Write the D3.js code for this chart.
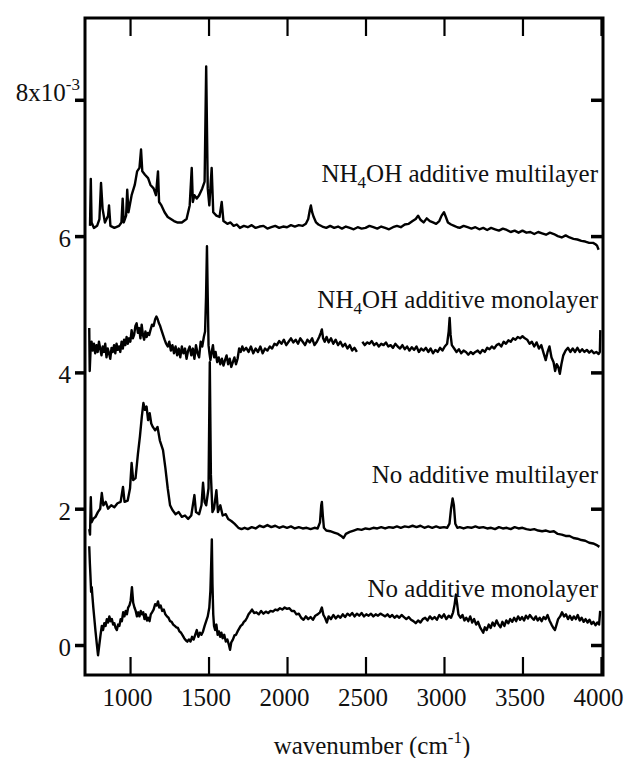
<!DOCTYPE html>
<html>
<head>
<meta charset="utf-8">
<script src="https://cdn.jsdelivr.net/npm/d3@7"></script>
<style>
    body { margin: 0; background: #fff; }
    text { font-family: "Liberation Serif", "Times New Roman", serif; fill: #111; }
</style>
</head>
<body>
<div id="chart"></div>
<script>
'use strict';

// absorbance values in units of 1e-3, x = wavenumber (cm-1)
const xTicks = [1000, 1500, 2000, 2500, 3000, 3500, 4000]
const yTicks = [0, 2, 4, 6, 8]

const seriesLabels = [
    "NH4OH additive multilayer",
    "NH4OH additive monolayer",
    "No additive multilayer",
    "No additive monolayer"
]

const nh4ohMulti = [
    [745, 6.15], [750, 6.84], [755, 6.2], [770, 6.12], [790, 6.15], [805, 6.25], [815, 6.78], [825, 6.4],
    [840, 6.2], [860, 6.3], [866, 6.45], [875, 6.15], [900, 6.12], [930, 6.15], [945, 6.2], [953, 6.55],
    [960, 6.2], [975, 6.3], [982, 6.68], [990, 6.35], [1010, 6.6], [1030, 6.75], [1045, 6.95], [1060, 7.0],
    [1070, 7.27], [1078, 6.95], [1095, 6.9], [1115, 6.85], [1130, 6.75], [1150, 6.7], [1165, 6.6], [1178, 6.95],
    [1185, 6.5], [1200, 6.45], [1220, 6.35], [1240, 6.28], [1260, 6.25], [1280, 6.22], [1300, 6.2], [1330, 6.2],
    [1360, 6.25], [1380, 6.45], [1393, 7.0], [1400, 6.5], [1410, 6.6], [1425, 6.55], [1440, 6.6], [1460, 6.7],
    [1475, 6.8], [1485, 8.49], [1495, 6.7], [1505, 6.45], [1520, 7.0], [1530, 6.35], [1550, 6.3], [1570, 6.28],
    [1584, 6.5], [1595, 6.22], [1620, 6.18], [1640, 6.2], [1660, 6.15], [1680, 6.17], [1700, 6.12], [1725, 6.15],
    [1750, 6.13], [1775, 6.16], [1800, 6.12], [1825, 6.14], [1850, 6.15], [1875, 6.11], [1900, 6.13], [1925, 6.15],
    [1950, 6.12], [1975, 6.14], [2000, 6.13], [2025, 6.16], [2050, 6.14], [2075, 6.16], [2100, 6.15], [2120, 6.18],
    [2135, 6.25], [2145, 6.38], [2152, 6.45], [2160, 6.35], [2170, 6.28], [2185, 6.2], [2200, 6.17], [2225, 6.14],
    [2250, 6.12], [2275, 6.15], [2300, 6.12], [2325, 6.14], [2350, 6.11], [2375, 6.14], [2400, 6.12], [2425, 6.1],
    [2450, 6.13], [2475, 6.11], [2500, 6.12], [2525, 6.15], [2550, 6.13], [2575, 6.11], [2600, 6.14], [2625, 6.12],
    [2650, 6.1], [2675, 6.13], [2700, 6.15], [2725, 6.13], [2750, 6.17], [2775, 6.18], [2800, 6.22], [2820, 6.25],
    [2835, 6.3], [2850, 6.24], [2870, 6.2], [2890, 6.26], [2910, 6.22], [2930, 6.2], [2950, 6.18], [2970, 6.22],
    [2985, 6.3], [3000, 6.35], [3012, 6.28], [3025, 6.2], [3045, 6.17], [3065, 6.15], [3085, 6.13], [3100, 6.12],
    [3125, 6.15], [3150, 6.13], [3175, 6.11], [3200, 6.13], [3225, 6.1], [3250, 6.12], [3275, 6.09], [3300, 6.12],
    [3325, 6.1], [3350, 6.08], [3375, 6.11], [3400, 6.09], [3425, 6.06], [3450, 6.08], [3475, 6.05], [3500, 6.08],
    [3525, 6.05], [3550, 6.06], [3575, 6.03], [3600, 6.06], [3625, 6.04], [3650, 6.02], [3675, 6.05], [3700, 6.03],
    [3725, 6.0], [3750, 5.98], [3775, 6.01], [3800, 5.98], [3825, 5.96], [3850, 5.95], [3875, 5.93], [3900, 5.92],
    [3925, 5.9], [3950, 5.9], [3965, 5.88], [3975, 5.86], [3985, 5.8]
]

const nh4ohMono = [
    [740, 4.65], [743, 4.02], [748, 4.3], [755, 4.45], [762, 4.32], [770, 4.42], [778, 4.28], [786, 4.4],
    [794, 4.3], [802, 4.45], [810, 4.35], [818, 4.25], [826, 4.38], [834, 4.3], [842, 4.42], [850, 4.22],
    [858, 4.35], [866, 4.28], [874, 4.2], [882, 4.36], [890, 4.3], [898, 4.4], [906, 4.28], [914, 4.42],
    [922, 4.33], [930, 4.38], [938, 4.3], [946, 4.45], [954, 4.35], [962, 4.48], [970, 4.4], [978, 4.52],
    [986, 4.42], [994, 4.5], [1002, 4.45], [1010, 4.62], [1018, 4.5], [1026, 4.55], [1034, 4.68], [1042, 4.72],
    [1050, 4.58], [1058, 4.65], [1066, 4.5], [1074, 4.7], [1082, 4.55], [1090, 4.48], [1098, 4.6], [1106, 4.52],
    [1114, 4.58], [1122, 4.55], [1130, 4.62], [1140, 4.7], [1150, 4.68], [1160, 4.78], [1168, 4.82], [1176, 4.78],
    [1184, 4.72], [1192, 4.68], [1200, 4.62], [1210, 4.55], [1220, 4.48], [1230, 4.42], [1240, 4.38], [1250, 4.45],
    [1260, 4.32], [1270, 4.4], [1280, 4.28], [1290, 4.38], [1300, 4.25], [1310, 4.35], [1320, 4.22], [1330, 4.38],
    [1340, 4.28], [1350, 4.35], [1360, 4.2], [1370, 4.32], [1380, 4.38], [1390, 4.25], [1400, 4.35], [1410, 4.2],
    [1420, 4.4], [1430, 4.28], [1440, 4.22], [1450, 4.45], [1460, 4.38], [1470, 4.52], [1478, 4.6], [1484, 5.1],
    [1490, 5.85], [1495, 5.1], [1500, 4.4], [1506, 4.28], [1512, 4.18], [1520, 4.3], [1528, 4.4], [1536, 4.22],
    [1545, 4.3], [1555, 4.15], [1565, 4.22], [1575, 4.12], [1585, 4.2], [1595, 4.1], [1605, 4.18], [1615, 4.25],
    [1625, 4.12], [1635, 4.2], [1645, 4.08], [1655, 4.15], [1665, 4.22], [1675, 4.12], [1685, 4.2], [1695, 4.35],
    [1705, 4.3], [1715, 4.38], [1725, 4.32], [1740, 4.36], [1755, 4.3], [1770, 4.38], [1785, 4.28], [1800, 4.35],
    [1815, 4.3], [1830, 4.38], [1845, 4.28], [1860, 4.35], [1875, 4.32], [1890, 4.38], [1905, 4.35], [1920, 4.42],
    [1935, 4.4], [1950, 4.46], [1965, 4.42], [1980, 4.48], [1995, 4.4], [2010, 4.45], [2025, 4.5], [2040, 4.44],
    [2055, 4.48], [2070, 4.42], [2085, 4.5], [2100, 4.45], [2115, 4.4], [2130, 4.48], [2145, 4.44], [2160, 4.5],
    [2175, 4.4], [2190, 4.45], [2205, 4.52], [2215, 4.58], [2222, 4.63], [2230, 4.5], [2240, 4.45], [2252, 4.52],
    [2265, 4.44], [2280, 4.5], [2295, 4.42], [2310, 4.48], [2325, 4.4], [2340, 4.45], [2355, 4.38], [2370, 4.42],
    [2385, 4.35], [2400, 4.4], [2415, 4.32], [2430, 4.36], [2445, 4.3],
    [2460, null],
    [2480, 4.45], [2495, 4.4], [2510, 4.44], [2525, 4.42], [2540, 4.46], [2555, 4.4], [2570, 4.43], [2585, 4.38],
    [2600, 4.42], [2615, 4.4], [2630, 4.44], [2645, 4.38], [2660, 4.4], [2675, 4.36], [2690, 4.42], [2705, 4.38],
    [2720, 4.35], [2735, 4.4], [2750, 4.34], [2765, 4.38], [2780, 4.32], [2795, 4.37], [2810, 4.33], [2825, 4.38],
    [2840, 4.3], [2855, 4.35], [2870, 4.32], [2885, 4.36], [2900, 4.3], [2915, 4.35], [2930, 4.28], [2945, 4.33],
    [2960, 4.3], [2975, 4.36], [2990, 4.32], [3005, 4.38], [3020, 4.42], [3030, 4.6], [3036, 4.8], [3042, 4.55],
    [3050, 4.4], [3065, 4.35], [3080, 4.3], [3095, 4.34], [3110, 4.28], [3125, 4.32], [3140, 4.3], [3155, 4.26],
    [3170, 4.3], [3185, 4.27], [3200, 4.3], [3215, 4.32], [3230, 4.28], [3245, 4.33], [3260, 4.3], [3275, 4.36],
    [3290, 4.34], [3305, 4.38], [3320, 4.35], [3335, 4.4], [3350, 4.42], [3365, 4.38], [3380, 4.45], [3395, 4.42],
    [3410, 4.47], [3425, 4.45], [3440, 4.5], [3455, 4.48], [3470, 4.52], [3485, 4.5], [3500, 4.53], [3515, 4.5],
    [3530, 4.48], [3545, 4.42], [3560, 4.45], [3575, 4.38], [3590, 4.44], [3605, 4.35], [3620, 4.4], [3635, 4.28],
    [3648, 4.18], [3660, 4.3], [3672, 4.38], [3685, 4.22], [3698, 4.15], [3708, 4.02], [3718, 4.12], [3728, 4.08],
    [3738, 3.98], [3748, 4.12], [3760, 4.25], [3775, 4.32], [3790, 4.36], [3805, 4.3], [3820, 4.35], [3835, 4.3],
    [3850, 4.36], [3865, 4.3], [3880, 4.34], [3895, 4.3], [3910, 4.33], [3925, 4.29], [3940, 4.32], [3955, 4.28],
    [3970, 4.3], [3985, 4.27], [3993, 4.3], [3996, 4.62]
]

const noAddMulti = [
    [740, 1.7], [745, 1.62], [750, 2.17], [755, 1.8], [765, 1.85], [780, 1.88], [795, 1.95], [810, 2.0],
    [820, 2.23], [830, 2.05], [845, 2.1], [860, 2.0], [880, 2.05], [900, 2.02], [920, 2.08], [940, 2.1],
    [955, 2.32], [965, 2.1], [985, 2.12], [1000, 2.3], [1010, 2.67], [1020, 2.42], [1035, 2.45], [1050, 2.8],
    [1063, 3.06], [1075, 3.35], [1085, 3.55], [1095, 3.45], [1105, 3.5], [1115, 3.3], [1125, 3.4], [1135, 3.25],
    [1145, 3.2], [1160, 3.15], [1175, 3.2], [1190, 3.0], [1210, 2.86], [1225, 2.6], [1240, 2.3], [1255, 2.05],
    [1270, 1.98], [1290, 1.92], [1310, 1.95], [1330, 1.88], [1350, 1.9], [1370, 1.85], [1390, 1.9], [1410, 2.2],
    [1420, 1.95], [1440, 1.92], [1455, 2.05], [1465, 2.38], [1475, 2.1], [1485, 2.05], [1500, 2.3], [1508, 4.15],
    [1515, 2.5], [1525, 1.95], [1535, 2.0], [1550, 2.27], [1560, 1.95], [1575, 2.05], [1590, 1.9], [1610, 1.92],
    [1625, 1.85], [1645, 1.82], [1665, 1.78], [1690, 1.72], [1710, 1.7], [1730, 1.72], [1750, 1.7], [1775, 1.73],
    [1800, 1.71], [1825, 1.75], [1850, 1.73], [1875, 1.76], [1900, 1.73], [1925, 1.75], [1950, 1.72], [1975, 1.74],
    [2000, 1.72], [2025, 1.74], [2050, 1.71], [2075, 1.73], [2100, 1.71], [2125, 1.72], [2150, 1.7], [2175, 1.72],
    [2195, 1.71], [2210, 1.8], [2218, 2.05], [2222, 2.1], [2228, 1.9], [2235, 1.72], [2250, 1.68], [2275, 1.67],
    [2300, 1.65], [2325, 1.63], [2345, 1.6], [2360, 1.57], [2375, 1.63], [2400, 1.66], [2425, 1.68], [2450, 1.7],
    [2475, 1.69], [2500, 1.71], [2525, 1.7], [2550, 1.72], [2575, 1.71], [2600, 1.73], [2625, 1.71], [2650, 1.73],
    [2675, 1.72], [2700, 1.74], [2725, 1.72], [2750, 1.74], [2775, 1.73], [2800, 1.75], [2825, 1.73], [2850, 1.75],
    [2875, 1.72], [2900, 1.74], [2925, 1.72], [2950, 1.74], [2975, 1.72], [3000, 1.73], [3020, 1.72], [3035, 1.78],
    [3045, 2.0], [3055, 2.15], [3063, 2.05], [3072, 1.78], [3085, 1.72], [3100, 1.73], [3125, 1.71], [3150, 1.73],
    [3175, 1.72], [3200, 1.74], [3225, 1.72], [3250, 1.73], [3275, 1.71], [3300, 1.72], [3325, 1.7], [3350, 1.73],
    [3375, 1.71], [3400, 1.72], [3425, 1.7], [3450, 1.73], [3475, 1.71], [3500, 1.72], [3525, 1.7], [3550, 1.69],
    [3575, 1.7], [3600, 1.68], [3625, 1.67], [3650, 1.68], [3675, 1.66], [3700, 1.67], [3725, 1.63], [3750, 1.62],
    [3775, 1.6], [3800, 1.6], [3825, 1.57], [3850, 1.56], [3875, 1.54], [3900, 1.53], [3925, 1.5], [3950, 1.49],
    [3970, 1.47], [3990, 1.44]
]

const noAddMono = [
    [740, 1.45], [744, 1.2], [748, 1.0], [752, 0.78], [756, 0.85], [760, 0.72], [766, 0.55], [772, 0.4],
    [780, 0.2], [788, 0.02], [796, -0.15], [804, 0.0], [812, 0.15], [820, 0.28], [828, 0.22], [836, 0.32],
    [844, 0.28], [852, 0.38], [860, 0.33], [868, 0.42], [876, 0.35], [884, 0.38], [892, 0.3], [900, 0.32],
    [908, 0.25], [916, 0.22], [924, 0.3], [932, 0.28], [940, 0.38], [948, 0.35], [956, 0.48], [964, 0.42],
    [972, 0.5], [980, 0.45], [988, 0.55], [996, 0.58], [1004, 0.65], [1012, 0.85], [1020, 0.62], [1028, 0.55],
    [1036, 0.5], [1044, 0.42], [1052, 0.48], [1060, 0.42], [1068, 0.5], [1076, 0.45], [1084, 0.48], [1092, 0.38],
    [1100, 0.45], [1108, 0.36], [1116, 0.4], [1124, 0.35], [1132, 0.45], [1140, 0.48], [1150, 0.52], [1160, 0.6],
    [1170, 0.58], [1178, 0.64], [1186, 0.55], [1195, 0.58], [1205, 0.5], [1215, 0.52], [1225, 0.45], [1235, 0.42],
    [1245, 0.4], [1255, 0.35], [1265, 0.34], [1275, 0.3], [1285, 0.28], [1295, 0.26], [1305, 0.25], [1315, 0.2],
    [1325, 0.18], [1335, 0.14], [1345, 0.1], [1355, 0.07], [1365, 0.05], [1375, 0.08], [1385, 0.05], [1395, 0.12],
    [1405, 0.08], [1415, 0.15], [1425, 0.22], [1435, 0.12], [1445, 0.18], [1455, 0.15], [1465, 0.2], [1475, 0.28],
    [1485, 0.35], [1495, 0.42], [1505, 0.55], [1512, 0.8], [1517, 1.2], [1521, 1.55], [1525, 0.9], [1530, 0.45],
    [1535, 0.28], [1542, 0.22], [1550, 0.3], [1558, 0.15], [1566, 0.2], [1574, 0.12], [1582, 0.18], [1590, 0.1],
    [1600, 0.15], [1610, 0.05], [1620, 0.08], [1630, 0.0], [1637, -0.07], [1645, 0.04], [1655, 0.08], [1665, 0.14],
    [1675, 0.15], [1685, 0.2], [1695, 0.24], [1705, 0.28], [1715, 0.3], [1725, 0.34], [1735, 0.36], [1745, 0.4],
    [1755, 0.45], [1765, 0.48], [1777, 0.52], [1790, 0.47], [1805, 0.48], [1820, 0.45], [1835, 0.5], [1850, 0.46],
    [1865, 0.49], [1880, 0.47], [1895, 0.5], [1910, 0.49], [1925, 0.52], [1940, 0.51], [1955, 0.54], [1970, 0.52],
    [1985, 0.55], [2000, 0.53], [2015, 0.54], [2030, 0.5], [2045, 0.5], [2060, 0.45], [2075, 0.46], [2090, 0.4],
    [2105, 0.37], [2120, 0.42], [2135, 0.38], [2150, 0.41], [2165, 0.37], [2180, 0.43], [2195, 0.45], [2210, 0.48],
    [2222, 0.55], [2232, 0.44], [2242, 0.4], [2254, 0.33], [2265, 0.42], [2280, 0.38], [2295, 0.44], [2310, 0.39],
    [2325, 0.43], [2340, 0.4], [2355, 0.45], [2370, 0.41], [2385, 0.46], [2400, 0.43], [2415, 0.47], [2430, 0.42],
    [2445, 0.46], [2460, 0.43], [2475, 0.47], [2490, 0.42], [2505, 0.45], [2520, 0.43], [2535, 0.46], [2550, 0.42],
    [2565, 0.45], [2580, 0.43], [2595, 0.46], [2610, 0.44], [2625, 0.42], [2640, 0.45], [2655, 0.41], [2670, 0.44],
    [2685, 0.4], [2700, 0.43], [2715, 0.4], [2730, 0.44], [2745, 0.41], [2760, 0.38], [2775, 0.41], [2790, 0.37],
    [2805, 0.35], [2820, 0.32], [2835, 0.36], [2850, 0.33], [2865, 0.38], [2880, 0.4], [2895, 0.36], [2910, 0.42],
    [2925, 0.38], [2940, 0.41], [2955, 0.37], [2970, 0.44], [2985, 0.4], [3000, 0.45], [3015, 0.38], [3030, 0.43],
    [3045, 0.4], [3058, 0.48], [3068, 0.6], [3076, 0.74], [3084, 0.6], [3092, 0.45], [3105, 0.4], [3118, 0.44],
    [3130, 0.36], [3142, 0.4], [3155, 0.35], [3167, 0.42], [3180, 0.33], [3192, 0.38], [3205, 0.3], [3217, 0.34],
    [3230, 0.26], [3240, 0.22], [3250, 0.18], [3260, 0.26], [3272, 0.22], [3285, 0.3], [3297, 0.25], [3310, 0.33],
    [3322, 0.28], [3335, 0.36], [3347, 0.3], [3360, 0.26], [3372, 0.34], [3385, 0.28], [3397, 0.36], [3410, 0.32],
    [3422, 0.38], [3435, 0.34], [3447, 0.4], [3460, 0.35], [3472, 0.42], [3485, 0.37], [3497, 0.41], [3510, 0.36],
    [3522, 0.43], [3535, 0.39], [3547, 0.44], [3560, 0.4], [3572, 0.37], [3585, 0.42], [3597, 0.36], [3610, 0.4],
    [3622, 0.35], [3635, 0.41], [3647, 0.38], [3660, 0.44], [3672, 0.36], [3685, 0.3], [3697, 0.25], [3707, 0.22],
    [3717, 0.3], [3727, 0.38], [3740, 0.42], [3752, 0.48], [3765, 0.42], [3777, 0.45], [3790, 0.38], [3802, 0.43],
    [3815, 0.37], [3827, 0.42], [3840, 0.38], [3852, 0.44], [3865, 0.36], [3877, 0.4], [3890, 0.34], [3902, 0.38],
    [3915, 0.33], [3927, 0.37], [3940, 0.31], [3952, 0.34], [3965, 0.29], [3977, 0.33], [3988, 0.3], [3995, 0.5]
]

const allSeries = [nh4ohMulti, nh4ohMono, noAddMulti, noAddMono]

const drawChart = () => {
    let margin = { top: 18, right: 23, bottom: 83, left: 85 },
        width = 626 - margin.left - margin.right,
        height = 758 - margin.top - margin.bottom;

    let svg = d3.select("#chart")
        .append("svg")
        .attr("width", 626)
        .attr("height", 758)
        .append("g")
        .attr("transform", `translate(${margin.left}, ${margin.top})`);

    let xScale = d3.scaleLinear()
        .domain([713, 4013])
        .range([0, width])

    let yScale = d3.scaleLinear()
        .domain([-0.44, 9.2])
        .range([height, 0])

    // bottom axis, ticks point inward
    let xAxis = svg.append("g")
        .attr("transform", `translate(0, ${height})`)
        .call(d3.axisBottom(xScale).tickValues(xTicks).tickSize(-18).tickPadding(13).tickSizeOuter(0)
            .tickFormat(d3.format("d")))
    xAxis.selectAll("text").attr("font-size", 25).attr("dx", -3)

    let xTop = svg.append("g")
        .call(d3.axisTop(xScale).tickValues(xTicks).tickSize(-18).tickFormat("").tickSizeOuter(0))

    // left axis, ticks outward
    let yAxis = svg.append("g")
        .call(d3.axisLeft(yScale).tickValues(yTicks).tickSize(10).tickPadding(4).tickSizeOuter(0)
            .tickFormat(d => d === 8 ? "" : d))
    yAxis.selectAll("text").attr("font-size", 25).attr("dy", "0.42em")

    let yRight = svg.append("g")
        .attr("transform", `translate(${width}, 0)`)
        .call(d3.axisRight(yScale).tickValues(yTicks).tickSize(-12).tickFormat("").tickSizeOuter(0))

    svg.selectAll(".domain").remove()
    xAxis.selectAll(".tick line").attr("stroke", "#000").attr("stroke-width", 2.2)
    xTop.selectAll(".tick line").attr("stroke", "#000").attr("stroke-width", 2.2)
    yAxis.selectAll(".tick line").attr("stroke", "#000").attr("stroke-width", 3.5)
    yRight.selectAll(".tick line").attr("stroke", "#000").attr("stroke-width", 3.5)

    // frame
    svg.append("rect")
        .attr("width", width)
        .attr("height", height)
        .attr("fill", "none")
        .attr("stroke", "#000")
        .attr("stroke-width", 3)

    // 8x10^-3 label on top tick
    let topLabel = svg.append("text")
        .attr("x", -5)
        .attr("y", yScale(8) + 1)
        .attr("text-anchor", "end")
        .attr("font-size", 25)
    topLabel.append("tspan").text("8x10")
    topLabel.append("tspan").attr("font-size", 17).attr("dy", -11).text("-3")

    let line = d3.line()
        .defined(d => d[1] != null)
        .x(d => xScale(d[0]))
        .y(d => yScale(d[1]))

    svg.selectAll(".spectrum")
        .data(allSeries)
        .join("path")
        .attr("class", "spectrum")
        .attr("fill", "none")
        .attr("stroke", "#000")
        .attr("stroke-width", 2.4)
        .attr("stroke-linejoin", "round")
        .attr("d", line)

    // curve labels, right aligned
    let labelLevels = [6.8, 4.95, 2.38, 0.7]
    seriesLabels.forEach((name, i) => {
        let t = svg.append("text")
            .attr("x", width - 5)
            .attr("y", yScale(labelLevels[i]))
            .attr("text-anchor", "end")
            .attr("font-size", 25)
        if (name.startsWith("NH4OH")) {
            t.append("tspan").text("NH")
            t.append("tspan").attr("font-size", 17).attr("dy", 6).text("4")
            t.append("tspan").attr("dy", -6).text(name.slice(3))
        } else {
            t.text(name)
        }
    })

    svg.append("text")
        .attr("x", 287)
        .attr("y", height + 79)
        .attr("text-anchor", "middle")
        .attr("font-size", 25)
        .call(t => {
            t.append("tspan").text("wavenumber (cm")
            t.append("tspan").attr("font-size", 17).attr("dy", -11).text("-1")
            t.append("tspan").attr("dy", 11).text(")")
        })
}

drawChart()
</script>
</body>
</html>
